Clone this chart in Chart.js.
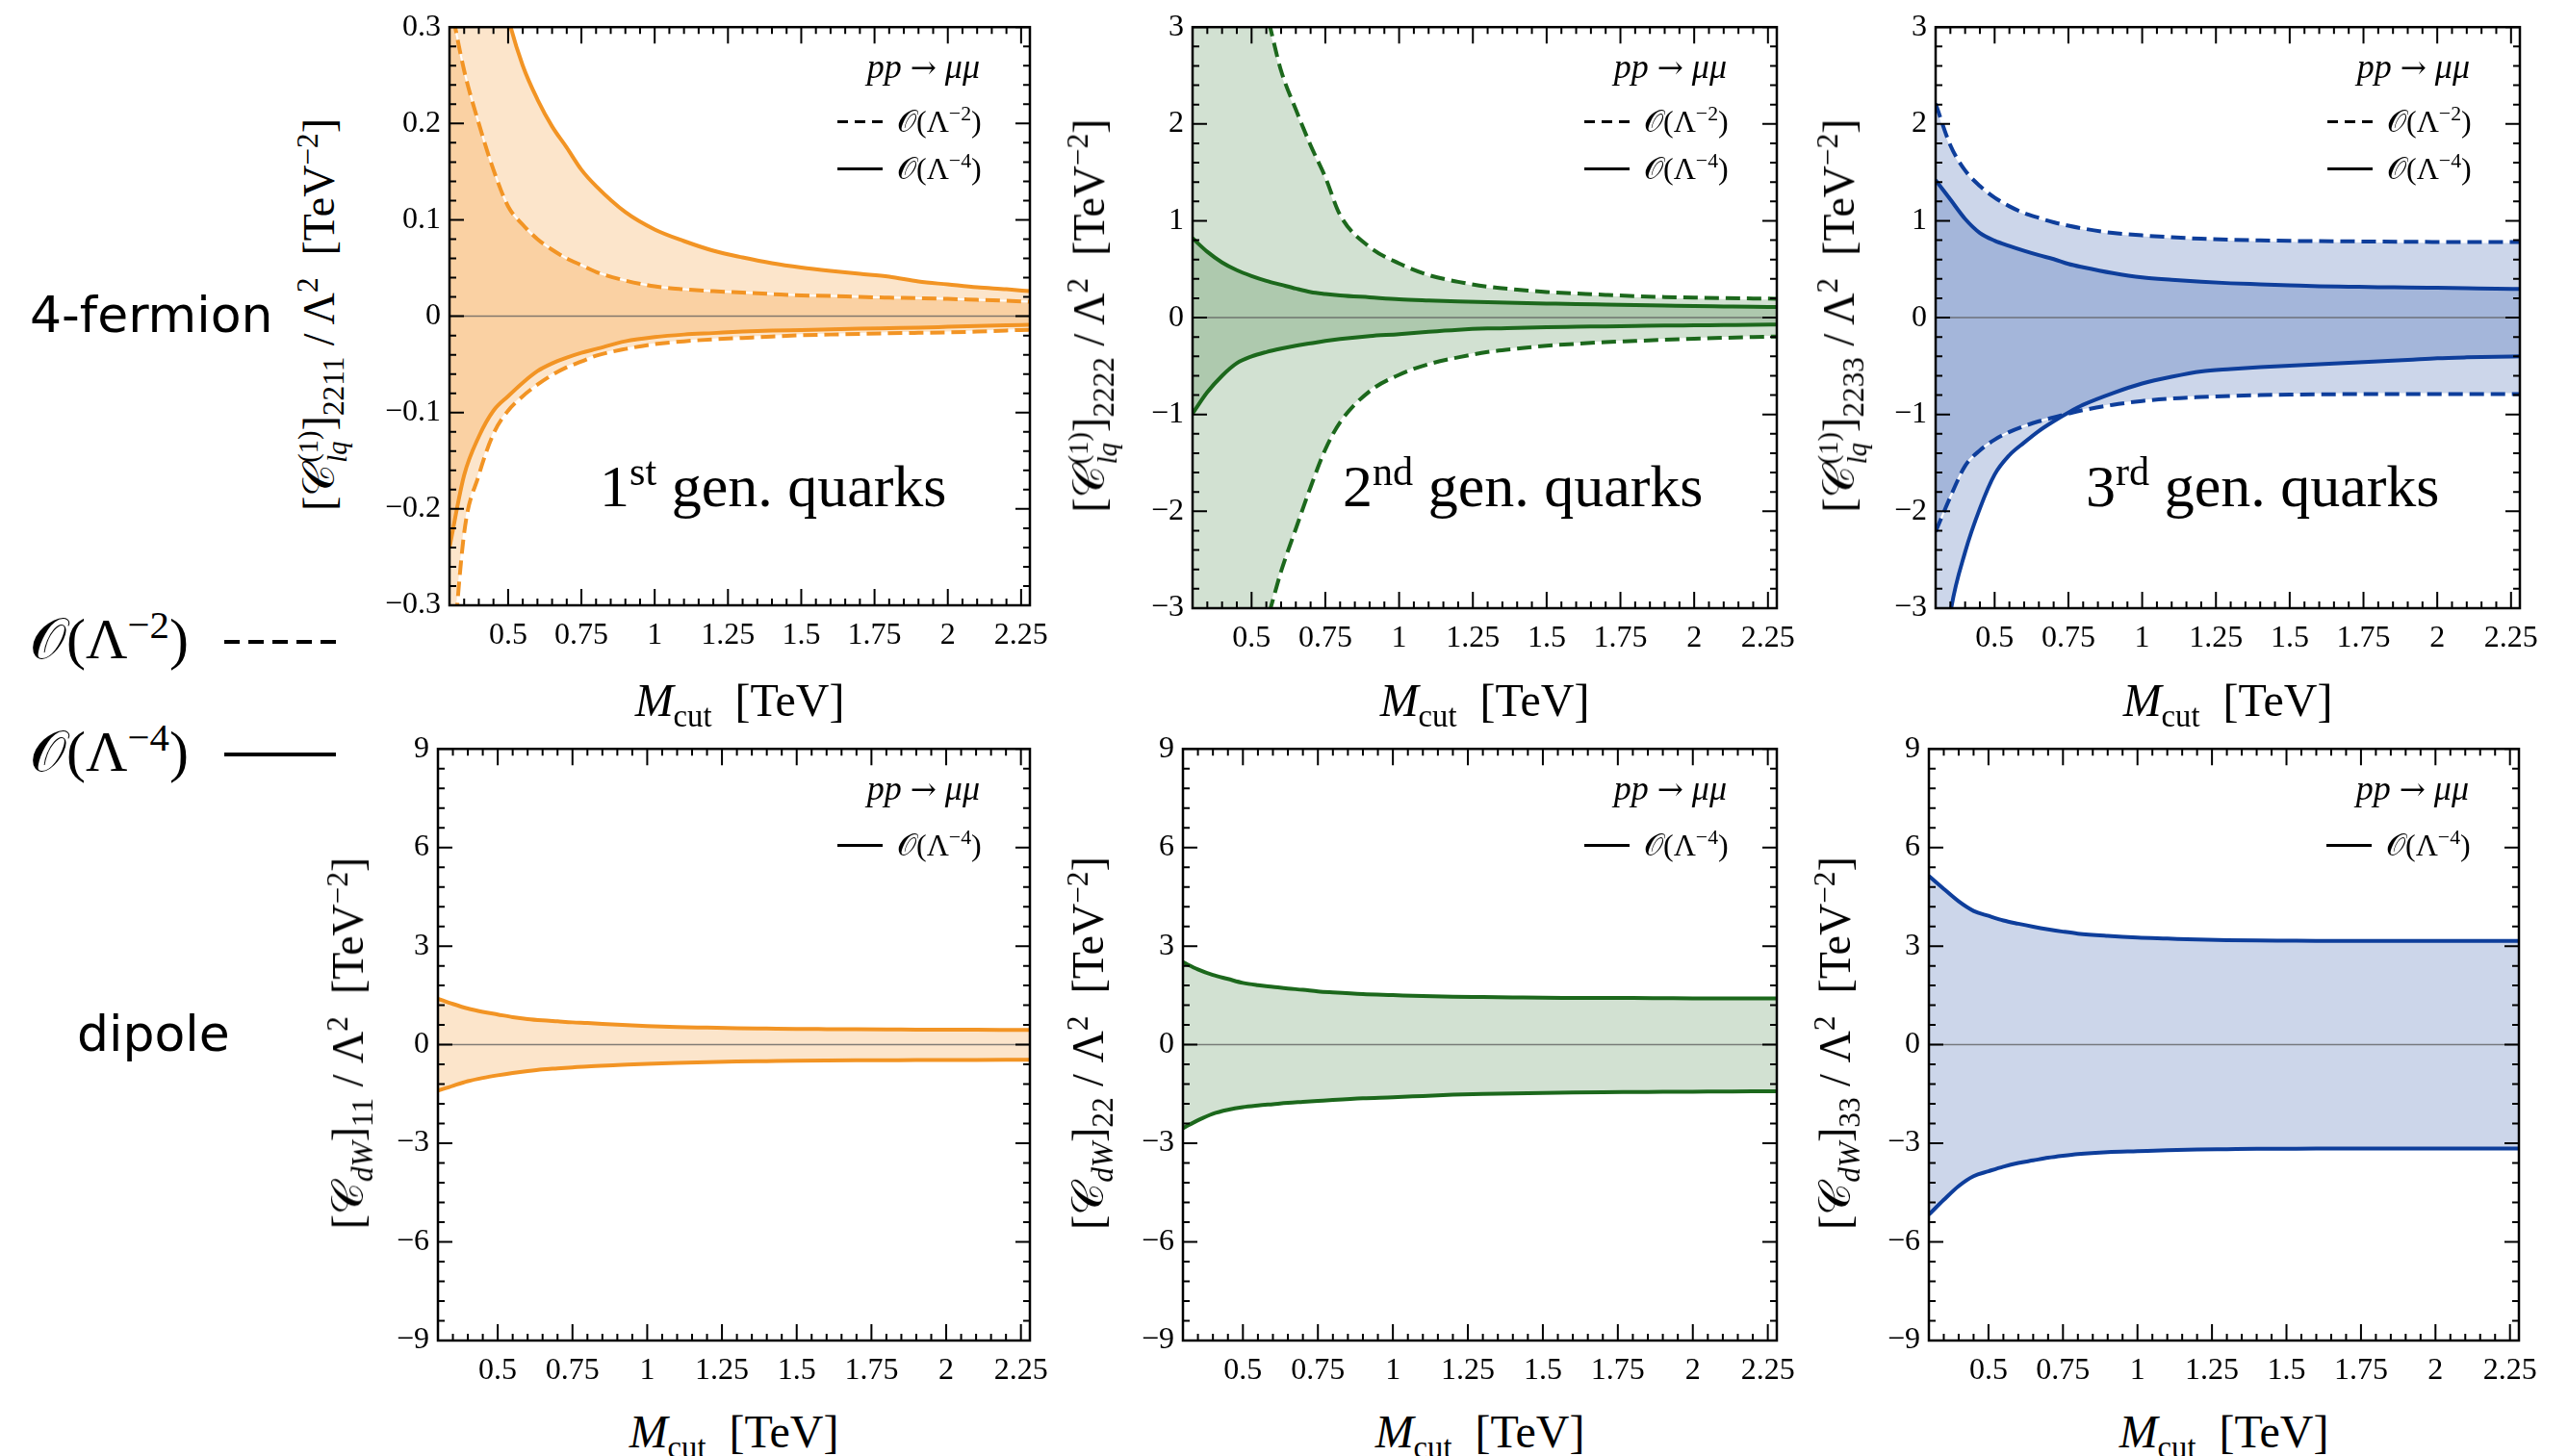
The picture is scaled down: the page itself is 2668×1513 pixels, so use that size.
<!DOCTYPE html>
<html>
<head>
<meta charset="utf-8">
<script src="https://cdn.jsdelivr.net/npm/chart.js@4.4.1/dist/chart.umd.min.js"></script>
<style>
body { margin:0; width:2668px; height:1513px; background:#fff; position:relative; overflow:hidden; }
canvas { position:absolute; }
.t { position:absolute; white-space:nowrap; line-height:1; font-family:'Liberation Serif', serif; color:#000; }
.t sup, .t sub { line-height:0; font-size:0.68em; }
.yt { font-size:46px; transform:translate(-50%,-50%) rotate(-90deg); }
.xt { font-size:48px; transform:translateX(-50%); }
.ss { display:inline-flex; flex-direction:column; font-size:0.62em; line-height:1.05; vertical-align:middle; margin-left:1px; }
.sans { font-family:'DejaVu Sans', sans-serif; font-size:52px; }
.big { font-size:60px; }
.gen { font-size:62px; }
.lg { font-size:32px; }
.pp { font-size:36px; transform:translateX(-100%); }
.arr { font-family:'DejaVu Serif', serif; font-size:0.9em; }
.ln { position:absolute; height:4px; background:#000; }
.dash { background:repeating-linear-gradient(90deg, #000 0 16px, transparent 16px 25px); }
.lns { position:absolute; height:3px; background:#000; }
.dashs { background:repeating-linear-gradient(90deg, #000 0 11px, transparent 11px 18px); }
</style>
</head>
<body>
<script>
// M_cut grid in TeV
var mcut = [0.30, 0.35, 0.40, 0.45, 0.50, 0.55, 0.60, 0.65, 0.70, 0.75, 0.80, 0.90, 1.00,
            1.10, 1.20, 1.30, 1.40, 1.50, 1.60, 1.70, 1.80, 1.90, 2.00, 2.10, 2.20, 2.28];

// 4-fermion, 1st gen quarks
var q1Lam2Up = [0.33, 0.255, 0.20, 0.152, 0.114, 0.095, 0.080, 0.069, 0.060, 0.053, 0.046, 0.037, 0.031,
                0.028, 0.026, 0.0245, 0.023, 0.0216, 0.021, 0.020, 0.0193, 0.0187, 0.018, 0.017, 0.016, 0.015];
var q1Lam2Lo = [-0.40, -0.225, -0.165, -0.122, -0.098, -0.083, -0.071, -0.061, -0.053, -0.047, -0.041, -0.034, -0.029,
                -0.026, -0.024, -0.0225, -0.021, -0.0197, -0.019, -0.0183, -0.0177, -0.0172, -0.0168, -0.016, -0.0148, -0.014];
var q1Lam4Up = [0.80, 0.62, 0.48, 0.38, 0.31, 0.26, 0.225, 0.197, 0.175, 0.152, 0.135, 0.108, 0.09,
                0.078, 0.068, 0.061, 0.055, 0.0505, 0.047, 0.044, 0.041, 0.036, 0.033, 0.030, 0.028, 0.026];
var q1Lam4Lo = [-0.24, -0.165, -0.125, -0.098, -0.083, -0.069, -0.057, -0.049, -0.043, -0.038, -0.034, -0.026, -0.0216,
                -0.019, -0.0175, -0.016, -0.015, -0.0144, -0.0137, -0.013, -0.0124, -0.0118, -0.011, -0.0102, -0.0095, -0.009];

// 4-fermion, 2nd gen quarks
var q2Lam2Up = [8.0, 6.2, 5.0, 4.2, 3.6, 3.15, 2.55, 2.15, 1.78, 1.45, 1.06, 0.73, 0.56,
                0.44, 0.37, 0.32, 0.29, 0.265, 0.25, 0.235, 0.222, 0.213, 0.207, 0.202, 0.198, 0.195];
var q2Lam2Lo = [-8.0, -6.2, -5.0, -4.2, -3.6, -3.15, -2.62, -2.18, -1.75, -1.36, -1.08, -0.76, -0.59,
                -0.48, -0.41, -0.355, -0.32, -0.29, -0.27, -0.252, -0.24, -0.228, -0.218, -0.208, -0.2, -0.195];
var q2Lam4Up = [0.82, 0.68, 0.57, 0.49, 0.43, 0.38, 0.34, 0.30, 0.265, 0.245, 0.23, 0.21, 0.19,
                0.178, 0.168, 0.16, 0.152, 0.146, 0.14, 0.135, 0.13, 0.125, 0.12, 0.116, 0.112, 0.11];
var q2Lam4Lo = [-0.99, -0.77, -0.60, -0.47, -0.40, -0.355, -0.32, -0.29, -0.265, -0.24, -0.22, -0.19, -0.17,
                -0.145, -0.125, -0.112, -0.105, -0.098, -0.094, -0.09, -0.086, -0.082, -0.079, -0.076, -0.073, -0.07];

// 4-fermion, 3rd gen quarks
var q3Lam2Up = [2.21, 1.78, 1.52, 1.36, 1.24, 1.15, 1.08, 1.03, 0.985, 0.95, 0.92, 0.875, 0.85,
                0.83, 0.815, 0.805, 0.798, 0.793, 0.79, 0.788, 0.786, 0.784, 0.782, 0.781, 0.78, 0.78];
var q3Lam2Lo = [-2.21, -1.85, -1.53, -1.37, -1.26, -1.18, -1.12, -1.07, -1.03, -0.99, -0.955, -0.90, -0.86,
                -0.835, -0.82, -0.808, -0.80, -0.795, -0.792, -0.79, -0.79, -0.79, -0.79, -0.79, -0.79, -0.79];
var q3Lam4Up = [1.42, 1.22, 1.02, 0.875, 0.795, 0.74, 0.69, 0.645, 0.605, 0.555, 0.52, 0.46, 0.415,
                0.39, 0.37, 0.355, 0.345, 0.335, 0.325, 0.32, 0.315, 0.312, 0.308, 0.304, 0.30, 0.296];
var q3Lam4Lo = [-4.3, -3.05, -2.42, -1.97, -1.62, -1.42, -1.29, -1.17, -1.07, -0.98, -0.90, -0.78, -0.68,
                -0.61, -0.555, -0.53, -0.51, -0.495, -0.48, -0.467, -0.452, -0.437, -0.42, -0.41, -0.403, -0.40];

// dipole, O(Lambda^-4) only
var d1Up = [1.40, 1.24, 1.10, 1.00, 0.92, 0.84, 0.78, 0.74, 0.71, 0.68, 0.66, 0.61, 0.57,
            0.54, 0.52, 0.50, 0.49, 0.48, 0.475, 0.47, 0.465, 0.46, 0.457, 0.454, 0.452, 0.45];
var d1Lo = [-1.40, -1.25, -1.11, -1.01, -0.93, -0.86, -0.80, -0.75, -0.72, -0.69, -0.66, -0.62, -0.58,
            -0.55, -0.53, -0.51, -0.50, -0.49, -0.482, -0.476, -0.471, -0.467, -0.464, -0.462, -0.46, -0.46];
var d2Up = [2.51, 2.29, 2.12, 2.00, 1.88, 1.81, 1.76, 1.71, 1.67, 1.62, 1.59, 1.54, 1.51,
            1.48, 1.46, 1.45, 1.44, 1.43, 1.425, 1.42, 1.42, 1.415, 1.41, 1.41, 1.41, 1.41];
var d2Lo = [-2.54, -2.30, -2.10, -1.98, -1.90, -1.85, -1.81, -1.77, -1.74, -1.71, -1.68, -1.63, -1.60,
            -1.56, -1.52, -1.495, -1.48, -1.47, -1.455, -1.445, -1.44, -1.435, -1.43, -1.425, -1.42, -1.42];
var d3Up = [5.13, 4.74, 4.36, 4.07, 3.92, 3.78, 3.68, 3.59, 3.51, 3.44, 3.38, 3.31, 3.26,
            3.23, 3.20, 3.18, 3.17, 3.165, 3.16, 3.16, 3.16, 3.16, 3.16, 3.16, 3.16, 3.16];
var d3Lo = [-5.17, -4.72, -4.30, -4.00, -3.85, -3.71, -3.60, -3.52, -3.44, -3.38, -3.33, -3.27, -3.24,
            -3.21, -3.19, -3.18, -3.17, -3.165, -3.16, -3.16, -3.16, -3.16, -3.16, -3.16, -3.16, -3.16];

// axis ticks
var xTickVals = [0.5, 0.75, 1, 1.25, 1.5, 1.75, 2, 2.25];
var yTicksQ1 = [-0.3, -0.2, -0.1, 0, 0.1, 0.2, 0.3];
var yTicksQ = [-3, -2, -1, 0, 1, 2, 3];
var yTicksDip = [-9, -6, -3, 0, 3, 6, 9];

var orange = '242,148,36', green = '28,104,28', blue = '14,62,155';

var PAD_L = 80, PAD_T = 24, PAD_R = 44, PAD_B = 60;
var tickFont = {family: "'Liberation Serif', serif", size: 32};

function fmt(v) {
    var r = Math.round(v * 100) / 100;
    return r < 0 ? '\u2212' + (-r) : String(r);
}

// frame with inward ticks on all four sides, plus the zero line
var frameTicks = {
    id: 'frameTicks',
    afterDatasetsDraw: function(chart, args, opts) {
        var ctx = chart.ctx, a = chart.chartArea, x = chart.scales.x, y = chart.scales.y;
        ctx.save();
        var y0 = y.getPixelForValue(0);
        ctx.strokeStyle = 'rgba(90,90,90,0.75)';
        ctx.lineWidth = 1.5;
        ctx.beginPath(); ctx.moveTo(a.left, y0); ctx.lineTo(a.right, y0); ctx.stroke();

        ctx.strokeStyle = '#000';
        ctx.lineWidth = 2;
        ctx.beginPath();
        var v, px, len, i;
        for (i = Math.ceil(x.min / 0.05 - 1e-6); i * 0.05 <= x.max + 1e-9; i++) {
            v = i * 0.05;
            px = x.getPixelForValue(v);
            len = xTickVals.some(function(t) { return Math.abs(t - v) < 1e-6; }) ? 17 : 7;
            ctx.moveTo(px, a.bottom); ctx.lineTo(px, a.bottom - len);
            ctx.moveTo(px, a.top); ctx.lineTo(px, a.top + len);
        }
        for (i = Math.ceil(y.min / opts.minor - 1e-6); i * opts.minor <= y.max + 1e-9; i++) {
            v = i * opts.minor;
            px = y.getPixelForValue(v);
            len = opts.major.some(function(t) { return Math.abs(t - v) < 1e-6; }) ? 15 : 7;
            ctx.moveTo(a.left, px); ctx.lineTo(a.left + len, px);
            ctx.moveTo(a.right, px); ctx.lineTo(a.right - len, px);
        }
        ctx.stroke();
        ctx.lineWidth = 2.5;
        ctx.strokeRect(a.left, a.top, a.right - a.left, a.bottom - a.top);
        ctx.restore();
    }
};

function band(up, lo, rgb, alpha, dashed) {
    var base = {pointRadius: 0, borderWidth: 4, borderColor: 'rgb(' + rgb + ')',
                cubicInterpolationMode: 'monotone', clip: 0, order: 1};
    if (dashed) base.borderDash = [15, 7];
    return [
        Object.assign({}, base, {data: up, fill: '+1', backgroundColor: 'rgba(' + rgb + ',' + alpha + ')'}),
        Object.assign({}, base, {data: lo, fill: false})
    ];
}

function underlay(vals) {
    return {data: vals, pointRadius: 0, borderWidth: 2, borderColor: '#fff',
            cubicInterpolationMode: 'monotone', clip: 0, fill: false, order: 2};
}

function makePanel(box, yTicks, minor, datasets) {
    var c = document.createElement('canvas');
    var w = box[2] - box[0] + PAD_L + PAD_R, h = box[3] - box[1] + PAD_T + PAD_B;
    c.width = w; c.height = h;
    c.style.left = (box[0] - PAD_L) + 'px';
    c.style.top = (box[1] - PAD_T) + 'px';
    c.style.width = w + 'px'; c.style.height = h + 'px';
    document.body.appendChild(c);

    return new Chart(c.getContext('2d'), {
        type: 'line',
        data: {labels: mcut, datasets: datasets},
        plugins: [frameTicks],
        options: {
            responsive: false, animation: false, devicePixelRatio: 1,
            layout: {padding: {top: PAD_T, right: PAD_R, left: 0, bottom: 0}},
            plugins: {
                legend: {display: false}, tooltip: {enabled: false},
                filler: {drawTime: 'beforeDatasetsDraw'},
                frameTicks: {major: yTicks, minor: minor}
            },
            scales: {
                x: {
                    type: 'linear', min: 0.3, max: 2.28,
                    grid: {display: false, drawTicks: false}, border: {display: false},
                    afterBuildTicks: function(s) { s.ticks = xTickVals.map(function(v) { return {value: v}; }); },
                    afterFit: function(s) { s.height = PAD_B; },
                    ticks: {color: '#000', font: tickFont, padding: 12, maxRotation: 0, autoSkip: false,
                            callback: function(v) { return fmt(v); }}
                },
                y: {
                    type: 'linear', min: yTicks[0], max: yTicks[yTicks.length - 1],
                    grid: {display: false, drawTicks: false}, border: {display: false},
                    afterBuildTicks: function(s) { s.ticks = yTicks.map(function(v) { return {value: v}; }); },
                    afterFit: function(s) { s.width = PAD_L; },
                    ticks: {color: '#000', font: tickFont, padding: 9, autoSkip: false,
                            callback: function(v) { return fmt(v); }}
                }
            }
        }
    });
}

// plot areas on the page: left, top, right, bottom
var boxes = [
    [467, 24, 1070, 629], [1239, 24, 1846, 632], [2011, 24, 2618, 632],
    [455, 774, 1070, 1393], [1229, 774, 1846, 1393], [2004, 774, 2617, 1393]
];

makePanel(boxes[0], yTicksQ1, 0.02,
    band(q1Lam2Up, q1Lam2Lo, orange, 0.24, true).concat(band(q1Lam4Up, q1Lam4Lo, orange, 0.24, false),
    [underlay(q1Lam2Up), underlay(q1Lam2Lo)]));
makePanel(boxes[1], yTicksQ, 0.2,
    band(q2Lam2Up, q2Lam2Lo, green, 0.2, true).concat(band(q2Lam4Up, q2Lam4Lo, green, 0.2, false),
    [underlay(q2Lam2Up), underlay(q2Lam2Lo)]));
makePanel(boxes[2], yTicksQ, 0.2,
    band(q3Lam2Up, q3Lam2Lo, blue, 0.21, true).concat(band(q3Lam4Up, q3Lam4Lo, blue, 0.21, false),
    [underlay(q3Lam2Up), underlay(q3Lam2Lo)]));
makePanel(boxes[3], yTicksDip, 0.6, band(d1Up, d1Lo, orange, 0.24, false));
makePanel(boxes[4], yTicksDip, 0.6, band(d2Up, d2Lo, green, 0.2, false));
makePanel(boxes[5], yTicksDip, 0.6, band(d3Up, d3Lo, blue, 0.21, false));

// text labels
function put(html, cls, left, top) {
    var d = document.createElement('div');
    d.className = 't ' + cls;
    d.style.left = left + 'px';
    d.style.top = top + 'px';
    d.innerHTML = html;
    document.body.appendChild(d);
    return d;
}
function putLine(cls, left, y, w) {
    var d = document.createElement('div');
    d.className = cls;
    d.style.left = left + 'px';
    d.style.top = (y - 2) + 'px';
    d.style.width = w + 'px';
    document.body.appendChild(d);
}

var xTitle = '<i>M</i><sub>cut</sub>&nbsp;&nbsp;[TeV]';
var lam2 = '&#x1D4AA;(&Lambda;<sup>&minus;2</sup>)', lam4 = '&#x1D4AA;(&Lambda;<sup>&minus;4</sup>)';
var yUnit = ' / &Lambda;<sup>2</sup>&nbsp;&nbsp;[TeV<sup>&minus;2</sup>]';
var yTitles = [
    '[&#x1D49E;<span class="ss"><span>(1)</span><i>lq</i></span>]<sub>2211</sub>' + yUnit,
    '[&#x1D49E;<span class="ss"><span>(1)</span><i>lq</i></span>]<sub>2222</sub>' + yUnit,
    '[&#x1D49E;<span class="ss"><span>(1)</span><i>lq</i></span>]<sub>2233</sub>' + yUnit,
    '[&#x1D49E;<sub><i>dW</i></sub>]<sub>11</sub>' + yUnit,
    '[&#x1D49E;<sub><i>dW</i></sub>]<sub>22</sub>' + yUnit,
    '[&#x1D49E;<sub><i>dW</i></sub>]<sub>33</sub>' + yUnit
];
var yTitleX = [336, 1136, 1915, 362, 1131, 1907];
var gens = ['1<sup>st</sup> gen. quarks', '2<sup>nd</sup> gen. quarks', '3<sup>rd</sup> gen. quarks'];

boxes.forEach(function(b, i) {
    var top = b[1], right = b[2];
    put(yTitles[i], 'yt', yTitleX[i], (b[1] + b[3]) / 2);
    put(xTitle, 'xt', (b[0] + b[2]) / 2, i < 3 ? 704 : 1464);
    put('<i>pp</i> <span class="arr">&rarr;</span> <i>&mu;&mu;</i>', 'pp', right - 52, top + 27);
    if (i < 3) {
        put(gens[i], 'gen', b[0] + 156, 474);
        putLine('lns dashs', right - 200, top + 103, 47);
        put(lam2, 'lg', right - 138, top + 86);
        putLine('lns', right - 200, top + 152, 47);
        put(lam4, 'lg', right - 138, top + 135);
    } else {
        putLine('lns', right - 200, top + 105, 47);
        put(lam4, 'lg', right - 138, top + 88);
    }
});

// row labels and the line-style key on the left
put('4-fermion', 'sans', 31, 301);
put('dipole', 'sans', 80, 1048);
put(lam2, 'big', 31, 634);
putLine('ln dash', 233, 667, 116);
put(lam4, 'big', 31, 751);
putLine('ln', 233, 784, 116);
</script>
</body>
</html>
